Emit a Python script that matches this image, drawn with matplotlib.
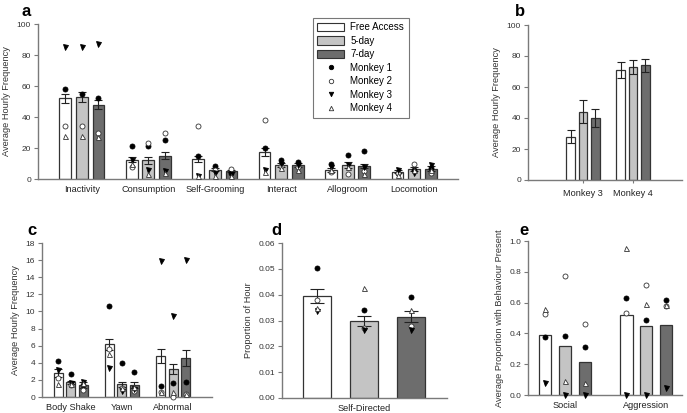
import matplotlib
matplotlib.use("Agg")
import matplotlib.pyplot as plt
import numpy as np
from matplotlib.patches import Patch
from matplotlib.lines import Line2D

plt.rcParams['font.family'] = ['Liberation Sans', 'DejaVu Sans']

conditions = ["Free Access", "5-day", "7-day"]
monkeys = ["Monkey 1", "Monkey 2", "Monkey 3", "Monkey 4"]

# Panel a
a_cats = ["Inactivity", "Consumption", "Self-Grooming", "Interact", "Allogroom", "Locomotion"]
a_mean_fa = [52, 12.5, 13, 17.5, 6, 4.7]
a_mean_5d = [53, 12, 6, 9, 9, 6.2]
a_mean_7d = [48, 15, 5, 9, 8.4, 6.7]
a_sem_fa = [3, 1.5, 2, 2.5, 1.2, 1.1]
a_sem_5d = [3, 2, 1, 1.2, 1.8, 1.3]
a_sem_7d = [3, 2.2, 0.8, 1.3, 1.3, 1.6]
a_m1 = [[58, 21, 15, 19.8, 10, 4], [55, 21, 8.5, 12.3, 15.5, 6], [52, 25, 4, 11, 18, 7]]
a_m2 = [[34, 8, 34, 38, 4.4, 4], [34, 23, 5.6, 8.4, 3.2, 9.5], [30, 30, 6.5, 8, 5, 4]]
a_m3 = [[85, 12.5, 2, 5.8, 8, 5.8], [85, 5.6, 4, 10, 9, 4], [87, 5, 3, 9, 8, 9]]
a_m4 = [[28, 10, 2, 4.4, 5.5, 2.6], [28, 3, 2, 7, 8, 5.8], [27, 4, 2, 6, 3, 5.8]]

# Panel b
b_cats = ["Monkey 3", "Monkey 4"]
b_mean_fa = [28, 71]
b_mean_5d = [44, 73]
b_mean_7d = [40, 74]
b_sem_fa = [4.3, 5.4]
b_sem_5d = [7.5, 4.7]
b_sem_7d = [6, 4.3]

# Panel c
c_cats = ["Body Shake", "Yawn", "Abnormal"]
c_mean_fa = [2.8, 6.15, 4.8]
c_mean_5d = [1.7, 1.5, 3.25]
c_mean_7d = [1.45, 1.35, 4.55]
c_sem_fa = [0.45, 0.6, 0.8]
c_sem_5d = [0.15, 0.3, 0.6]
c_sem_7d = [0.35, 0.35, 0.9]
c_m1 = [[4.15, 10.6, 1.3], [2.7, 3.95, 1.6], [1.4, 2.9, 1.8]]
c_m2 = [[2.2, 5.6, 0.55], [1.35, 1.0, 0.05], [0.8, 0.7, 0.4]]
c_m3 = [[3.2, 3.4, 15.85], [1.6, 0.65, 9.45], [1.8, 0.9, 16.0]]
c_m4 = [[1.55, 5.0, 0.55], [1.5, 1.0, 0.6], [1.6, 1.2, 0.3]]

# Panel d
d_cats = ["Self-Directed"]
d_mean = [0.0395, 0.0298, 0.0315]
d_sem = [0.0027, 0.0019, 0.002]
d_m1 = [0.0503, 0.0342, 0.039]
d_m2 = [0.038, 0.027, 0.0277]
d_m3 = [0.0335, 0.0262, 0.0262]
d_m4 = [0.0348, 0.0426, 0.0339]

# Panel e
e_cats = ["Social", "Aggression"]
e_mean_fa = [0.389, 0.518]
e_mean_5d = [0.32, 0.449]
e_mean_7d = [0.212, 0.454]
e_m1 = [[0.378, 0.63], [0.382, 0.486], [0.313, 0.62]]
e_m2 = [[0.525, 0.535], [0.773, 0.713], [0.464, 0.577]]
e_m3 = [[0.08, 0.0], [0.0, 0.0], [0.0, 0.043]]
e_m4 = [[0.557, 0.957], [0.09, 0.59], [0.075, 0.587]]

bar_colors = ["#ffffff", "#c4c4c4", "#6d6d6d"]
edge = "#333333"
spine_col = "#7a7a7a"
mk_style = [
    dict(marker='o', mfc='black', mec='black'),
    dict(marker='o', mfc='white', mec='#333333'),
    dict(marker='v', mfc='black', mec='black'),
    dict(marker='^', mfc='white', mec='#333333'),
]
MS = 3.6


def style_ax(ax, ylabel, ylim, yticks, fmt=None):
    for s in ['top', 'right']:
        ax.spines[s].set_visible(False)
    for s in ['left', 'bottom']:
        ax.spines[s].set_color(spine_col)
        ax.spines[s].set_linewidth(1.0)
    ax.set_ylim(*ylim)
    ax.set_yticks(yticks)
    if fmt:
        ax.set_yticklabels([fmt.format(t) for t in yticks])
    ax.tick_params(axis='y', labelsize=6.0, length=3, color=spine_col, pad=2, labelcolor='#333333')
    ax.tick_params(axis='x', labelsize=6.6, length=0, color=spine_col, pad=4, labelcolor='#222222')
    ax.set_ylabel(ylabel, fontsize=6.7, color='#333333', labelpad=4)


def draw_group(ax, x, means, sems, width, offset, points=None):
    for i in range(3):
        xi = np.asarray(x) + (i - 1) * offset
        ax.bar(xi, means[i], width=width, color=bar_colors[i], edgecolor=edge, linewidth=0.9, zorder=2)
        if sems is not None:
            ax.errorbar(xi, means[i], yerr=sems[i], fmt='none', ecolor='#222222', elinewidth=0.8,
                        capsize=2.6, capthick=0.8, zorder=3)
        if points is not None:
            for m in range(4):
                ax.plot(xi, points[m][i], linestyle='none', ms=MS, mew=0.6, zorder=4,
                        clip_on=False, **mk_style[m])


fig = plt.figure(figsize=(6.87, 4.13), dpi=100)
W, H = 687.0, 413.0


def add_ax(l, r, t, b):
    return fig.add_axes([l / W, 1 - b / H, (r - l) / W, (b - t) / H])


# ---- a
ax = add_ax(38, 458, 24, 179)
xa = np.arange(len(a_cats))
draw_group(ax, xa, [a_mean_fa, a_mean_5d, a_mean_7d], [a_sem_fa, a_sem_5d, a_sem_7d], 0.176, 0.25,
           [a_m1, a_m2, a_m3, a_m4])
ax.set_xlim(-0.66, 5.66)
ax.set_xticks(xa)
ax.set_xticklabels(a_cats)
style_ax(ax, "Average Hourly Frequency", (0, 100), [0, 20, 40, 60, 80, 100])

# ---- b
ax = add_ax(528, 682, 25, 180)
xb = np.arange(len(b_cats))
draw_group(ax, xb, [b_mean_fa, b_mean_5d, b_mean_7d], [b_sem_fa, b_sem_5d, b_sem_7d], 0.174, 0.246)
ax.set_xlim(-1.1, 1.98)
ax.set_xticks(xb)
ax.set_xticklabels(b_cats)
style_ax(ax, "Average Hourly Frequency", (0, 100), [0, 20, 40, 60, 80, 100])
ax.tick_params(axis='x', length=2.5)

# ---- c
ax = add_ax(42, 212, 243, 397)
xc = np.arange(len(c_cats))
draw_group(ax, xc, [c_mean_fa, c_mean_5d, c_mean_7d], [c_sem_fa, c_sem_5d, c_sem_7d], 0.175, 0.243,
           [c_m1, c_m2, c_m3, c_m4])
ax.set_xlim(-0.56, 2.76)
ax.set_xticks(xc)
ax.set_xticklabels(c_cats)
style_ax(ax, "Average Hourly Frequency", (0, 18), list(range(0, 19, 2)))

# ---- d
ax = add_ax(282, 447, 243, 398)
xd = np.arange(3)
for i in range(3):
    ax.bar(xd[i], d_mean[i], width=0.6, color=bar_colors[i], edgecolor=edge, linewidth=0.9, zorder=2)
    ax.errorbar(xd[i], d_mean[i], yerr=d_sem[i], fmt='none', ecolor='#222222', elinewidth=0.8,
                capsize=5, capthick=0.8, zorder=3)
for m, pts in enumerate([d_m1, d_m2, d_m3, d_m4]):
    ax.plot(xd, pts, linestyle='none', ms=MS, mew=0.6, zorder=4, **mk_style[m])
ax.set_xlim(-0.75, 2.76)
ax.set_xticks([1])
ax.set_xticklabels(d_cats)
style_ax(ax, "Proportion of Hour", (0, 0.06), [0, 0.01, 0.02, 0.03, 0.04, 0.05, 0.06], "{:.2f}")

# ---- e
ax = add_ax(528, 682, 241, 395)
xe = np.arange(len(e_cats))
draw_group(ax, xe, [e_mean_fa, e_mean_5d, e_mean_7d], None, 0.152, 0.245, [e_m1, e_m2, e_m3, e_m4])
ax.set_xlim(-0.455, 1.44)
ax.set_xticks(xe)
ax.set_xticklabels(e_cats)
style_ax(ax, "Average Proportion with Behaviour Present", (0, 1.0), [0, 0.2, 0.4, 0.6, 0.8, 1.0], "{:.1f}")

# panel letters
for lab, (px, py) in zip("abcde", [(21, 11), (515, 11), (27, 230), (271, 230), (519, 230)]):
    fig.text(px / W, 1 - py / H, lab, fontsize=12, fontweight='bold', va='center', ha='left')

# legend
handles = [Patch(facecolor=bar_colors[i], edgecolor=edge, linewidth=0.8) for i in range(3)]
handles += [Line2D([], [], linestyle='none', ms=3.2, mew=0.6, **mk_style[m]) for m in range(4)]
leg = fig.legend(handles, conditions + monkeys, loc='upper left',
                 bbox_to_anchor=(313 / W, 1 - 18 / H), fontsize=7, frameon=True, fancybox=False,
                 handlelength=2.7, handleheight=0.9, labelspacing=0.36, borderpad=0.45,
                 handletextpad=0.7, borderaxespad=0)
leg.get_frame().set_edgecolor('#555555')
leg.get_frame().set_linewidth(0.8)

fig.savefig("out.png", dpi=100)
